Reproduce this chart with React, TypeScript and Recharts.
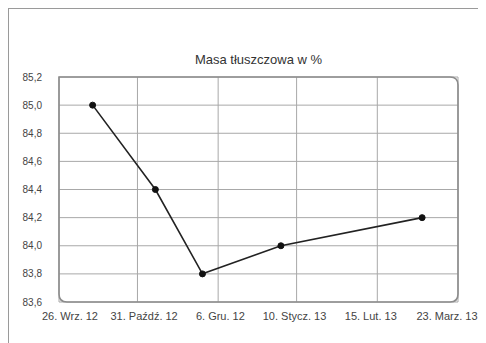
import { CartesianGrid, Line, LineChart, XAxis, YAxis, usePlotArea } from "recharts";

// Measurement dates and fat mass (%).
const MEASURE_DATES = ["2012-10-11", "2012-11-08", "2012-11-29", "2013-01-03", "2013-03-07"];
const FAT_MASS = [85.0, 84.4, 83.8, 84.0, 84.2];

const TICK_DATES = ["2012-09-26", "2012-10-31", "2012-12-06", "2013-01-10", "2013-02-15", "2013-03-23"];
const TICK_LABELS = ["26. Wrz. 12", "31. Paźdź. 12", "6. Gru. 12", "10. Stycz. 13", "15. Lut. 13", "23. Marz. 13"];
const Y_TICKS = [83.6, 83.8, 84.0, 84.2, 84.4, 84.6, 84.8, 85.0, 85.2];

const DAY = 86400000;
const start = Date.parse(TICK_DATES[0]);
const toDay = (d: string) => Math.round((Date.parse(d) - start) / DAY);

const data = MEASURE_DATES.map((d, i) => ({ day: toDay(d), value: FAT_MASS[i] }));
const xTicks = TICK_DATES.map(toDay);
const labelFor: Record<number, string> = {};
xTicks.forEach((t, i) => (labelFor[t] = TICK_LABELS[i]));

const FONT = "'Liberation Sans', Arial, sans-serif";

function PlotFrame() {
  const area = usePlotArea();
  if (!area) return null;
  const { x, y, width: w, height: h } = area;
  const r = 8;
  // square top-left corner, rounded elsewhere
  const d = `M${x},${y} H${x + w - r} Q${x + w},${y} ${x + w},${y + r} V${y + h - r} Q${x + w},${y + h} ${x + w - r},${y + h} H${x + r} Q${x},${y + h} ${x},${y + h - r} Z`;
  return (
    <g>
      <path d={d} fill="none" stroke="#8c8c8c" strokeWidth={1.6} />
      <text x={x + w / 2} y={y - 13} textAnchor="middle" fontSize={13} fill="#333" fontFamily={FONT}>
        Masa tłuszczowa w %
      </text>
    </g>
  );
}

// labels are pulled slightly toward the middle, like the original
function DateTick(props: any) {
  const { x, y, payload } = props;
  const area = usePlotArea();
  const mid = area ? area.x + area.width / 2 : x;
  const dx = (mid - x) * 0.055;
  return (
    <text x={x + dx} y={y + 10} textAnchor="middle" fontSize={11} fill="#444" fontFamily={FONT}>
      {labelFor[payload.value] ?? ""}
    </text>
  );
}

export default function App() {
  return (
    <div style={{ width: 478, height: 335, borderTop: "1px solid #9a9a9a", borderLeft: "1px solid #9a9a9a", background: "#fff" }}>
      <LineChart width={477} height={334} data={data} margin={{ top: 68, right: 28, bottom: 21, left: 0 }}>
        <CartesianGrid stroke="#a8a8a8" strokeWidth={1} />
        <XAxis
          dataKey="day"
          type="number"
          domain={[xTicks[0], xTicks[xTicks.length - 1]]}
          ticks={xTicks}
          tick={<DateTick />}
          axisLine={false}
          tickLine={false}
          interval={0}
          height={20}
        />
        <YAxis
          type="number"
          domain={[83.6, 85.2]}
          ticks={Y_TICKS}
          tickFormatter={(v: number) => v.toFixed(1).replace(".", ",")}
          axisLine={false}
          tickLine={false}
          width={50}
          tick={{ fontSize: 10, fill: "#444", fontFamily: FONT }}
          tickMargin={11}
        />
        <PlotFrame />
        <Line
          dataKey="value"
          stroke="#222"
          strokeWidth={1.6}
          dot={{ r: 3, fill: "#111", stroke: "#111", strokeWidth: 1 }}
          isAnimationActive={false}
        />
      </LineChart>
    </div>
  );
}
